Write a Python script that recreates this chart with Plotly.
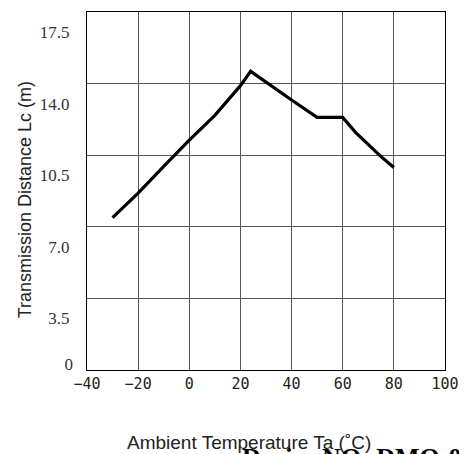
import plotly.graph_objects as go

temperature = [-30, -20, -10, 0, 10, 20, 24, 30, 40, 50, 60, 65, 70, 75, 80]
distance = [7.45, 8.65, 9.95, 11.24, 12.45, 13.9, 14.6, 14.06, 13.2, 12.35, 12.35, 11.62, 11.0, 10.43, 9.9]

x_ticks = [-40, -20, 0, 20, 40, 60, 80, 100]
x_tick_text = ["\u221240", "\u221220", "0", "20", "40", "60", "80", "100"]
y_ticks = [3.5, 7.0, 10.5, 14.0, 17.5]
y_tick_text = ["3.5", "7.0", "10.5", "14.0", "17.5"]
y_zero = [0]
y_zero_text = ["0"]

x_title = "Ambient Temperature Ta (\u02daC)"
y_title = "Transmission Distance Lc (m)"
device_text = "Device NO: DMO-02"

fig = go.Figure()
fig.add_trace(go.Scatter(x=temperature, y=distance, mode="lines",
                         line=dict(color="black", width=3.2), showlegend=False))
fig.add_trace(go.Scatter(x=[None], y=[None], yaxis="y2", showlegend=False))

grid_color = "#555555"
fig.update_layout(
    width=467, height=454,
    margin=dict(l=79, r=30, t=4, b=92),
    paper_bgcolor="white", plot_bgcolor="white",
    xaxis=dict(range=[-40, 100], tickvals=x_ticks, ticktext=x_tick_text,
               showgrid=True, gridcolor=grid_color, gridwidth=1,
               showline=True, linecolor="black", linewidth=1.2, mirror=True,
               ticks="", zeroline=False,
               tickfont=dict(family="DejaVu Sans Mono", size=15, color="#222")),
    yaxis=dict(range=[0, 17.5], tickvals=y_ticks, ticktext=y_tick_text,
               showgrid=True, gridcolor=grid_color, gridwidth=1,
               showline=True, linecolor="black", linewidth=1.2, mirror=True,
               ticks="", zeroline=False, ticklabelshift=20, ticklabelstandoff=13,
               tickfont=dict(family="Liberation Serif", size=17, color="#333")),
    yaxis2=dict(range=[0, 17.5], overlaying="y", side="left", tickvals=y_zero,
                ticktext=y_zero_text, showgrid=False, zeroline=False, showline=False,
                ticks="", ticklabelshift=-6, ticklabelstandoff=13,
                tickfont=dict(family="Liberation Serif", size=17, color="#333")),
    annotations=[
        dict(text=y_title, xref="paper", yref="paper", x=-0.172, y=0.475,
             xanchor="center", yanchor="middle", textangle=-90, showarrow=False,
             font=dict(family="Liberation Sans", size=18, color="#222")),
        dict(text=x_title, xref="paper", yref="paper", x=0.452, y=-0.168,
             xanchor="center", yanchor="top", showarrow=False,
             font=dict(family="Liberation Sans", size=19, color="#222")),
        dict(text="<b>" + device_text + "</b>", xref="paper", yref="paper", x=0.427, y=-0.198,
             xanchor="left", yanchor="top", showarrow=False,
             font=dict(family="Liberation Serif", size=26, color="black")),
    ],
)

fig.write_html("out.html")
